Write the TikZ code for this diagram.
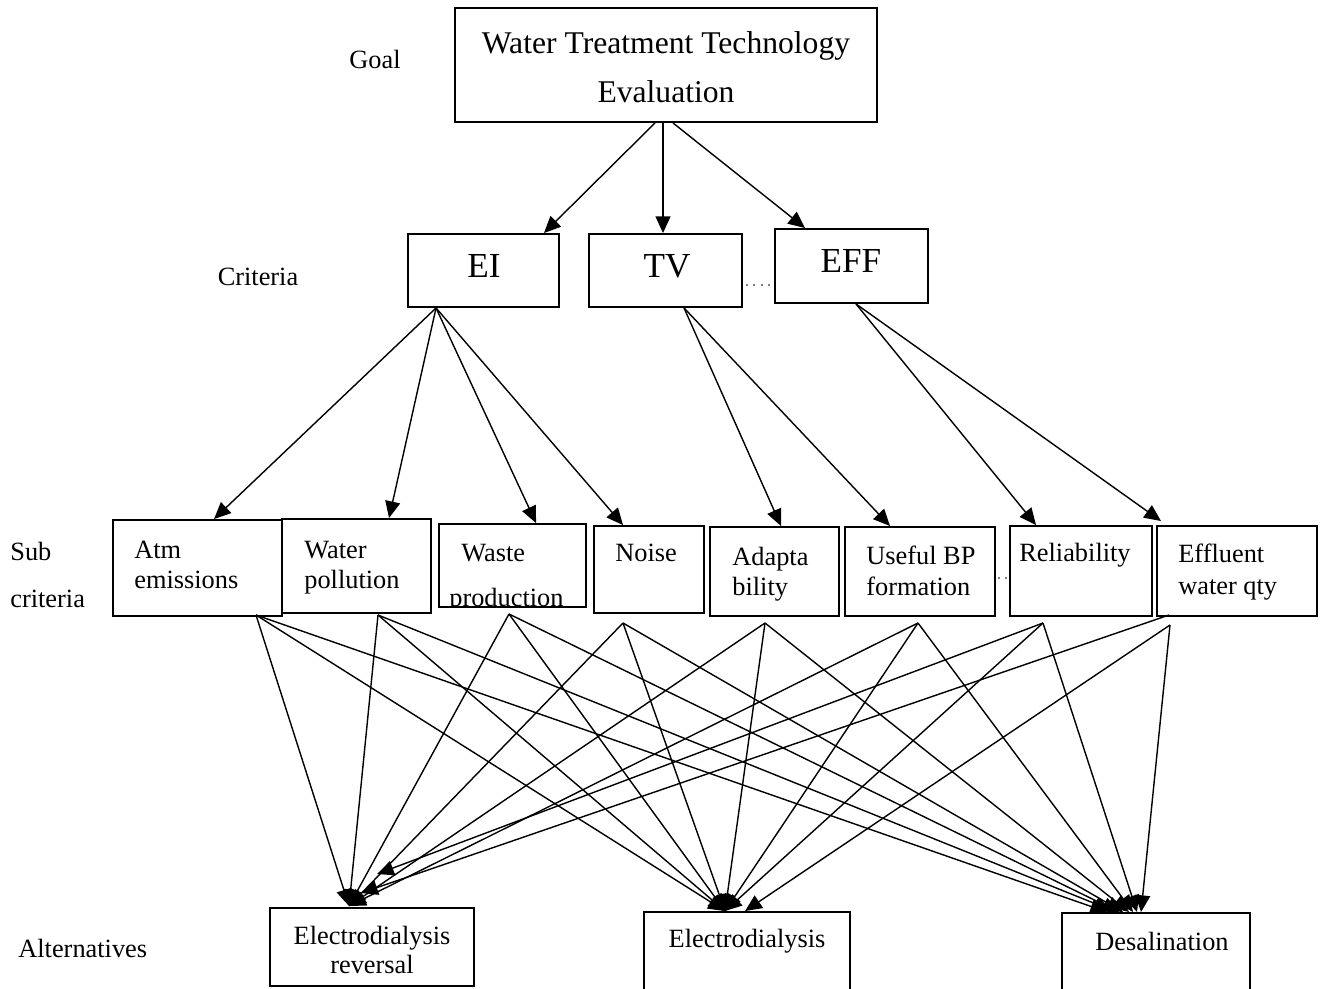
\documentclass[tikz,border=0pt]{standalone}
\usepackage{fontspec}
\setmainfont{Liberation Serif}
\usetikzlibrary{arrows.meta,calc,fit}
\begin{document}
\begin{tikzpicture}[x=0.02cm,y=-0.02cm,
  box/.style={draw,line width=1.1pt,inner sep=0pt},
  arr/.style={line width=0.8pt,-{Triangle[length=9.5pt,width=8.5pt]}},
  txt/.style={inner sep=0pt,font=\fontsize{15}{17}\selectfont},
  big/.style={inner sep=0pt,font=\fontsize{18}{20}\selectfont},
  crit/.style={inner sep=0pt,font=\fontsize{20}{22}\selectfont},
  dotline/.style={gray,line width=0.6pt,dash pattern=on 1.2pt off 3pt}]
\useasboundingbox (0,0) rectangle (1322,988);

% side labels
\node[txt,anchor=base] (lgoal) at (375,68) {Goal};
\node[txt,anchor=base] (lcrit) at (258,285) {Criteria};
\node[txt,anchor=base west] (lsub1) at (10,560) {Sub};
\node[txt,anchor=base west] (lsub2) at (10,607) {criteria};
\node[txt,anchor=base west] (lalt) at (18,957) {Alternatives};

% goal
\node[box,fit={(455,8)(877,122)}] (goal) {};
\node[big,anchor=base] (g1) at (666,53) {Water Treatment Technology};
\node[big,anchor=base] (g2) at (666,102) {Evaluation};

% criteria
\node[box,fit={(408,234)(559,307)}] (ei) {};
\node[crit,anchor=base] (eit) at (484,277) {EI};
\node[box,fit={(589,234)(742,307)}] (tv) {};
\node[crit,anchor=base] (tvt) at (667,277) {TV};
\node[box,fit={(775,229)(928,303)}] (eff) {};
\node[crit,anchor=base] (efft) at (851,272) {EFF};
\coordinate (da) at (746,285);
\coordinate (db) at (774,285);
\draw[dotline] (da) -- (db);

% sub criteria
\node[box,fit={(113,520)(282,616)}] (atm) {};
\node[txt,anchor=base west] (atm1) at (134,558) {Atm};
\node[txt,anchor=base west] (atm2) at (134,588) {emissions};

\node[box,fit={(282,519)(431,613)}] (wat) {};
\node[txt,anchor=base west] (wat1) at (304,558) {Water};
\node[txt,anchor=base west] (wat2) at (304,588) {pollution};

\node[box,fit={(439,524)(586,607)}] (was) {};
\node[txt,anchor=base west] (was1) at (461,561) {Waste};
\begin{scope}
\clip (439,524) rectangle (586,607);
\node[txt,anchor=base west] (was2) at (449,606) {production};
\end{scope}

\node[box,fit={(594,526)(704,613)}] (noi) {};
\node[txt,anchor=base west] (noi1) at (615,561) {Noise};

\node[box,fit={(710,527)(839,616)}] (ada) {};
\node[txt,anchor=base west] (ada1) at (732,565) {Adapta};
\node[txt,anchor=base west] (ada2) at (732,595) {bility};

\node[box,fit={(845,527)(995,616)}] (use) {};
\node[txt,anchor=base west] (use1) at (866,564) {Useful BP};
\node[txt,anchor=base west] (use2) at (866,595) {formation};

\node[box,fit={(1010,526)(1152,616)}] (rel) {};
\node[txt,anchor=base west] (rel1) at (1019,561) {Reliability};

\node[box,fit={(1157,526)(1317,616)}] (efl) {};
\node[txt,anchor=base west] (efl1) at (1178,562) {Effluent};
\node[txt,anchor=base west] (efl2) at (1178,594) {water qty};

\coordinate (dc) at (998,578);
\coordinate (dd) at (1009,578);
\draw[dotline] (dc) -- (dd);

% alternatives
\node[box,fit={(270,908)(474,986)}] (edr) {};
\node[txt,anchor=base] (edr1) at (372,944) {Electrodialysis};
\node[txt,anchor=base] (edr2) at (372,973) {reversal};
\node[box,fit={(644,912)(850,996)}] (ed) {};
\node[txt,anchor=base] (ed1) at (747,947) {Electrodialysis};
\node[box,fit={(1062,913)(1250,996)}] (des) {};
\node[txt,anchor=base] (des1) at (1162,950) {Desalination};

% goal -> criteria
\draw[arr] ($(goal.south)+(-11,0)$) -- ($(ei.north east)+(-16,0)$);
\draw[arr] ($(goal.south)+(-3,0)$) -- ($(tv.north)+(-2.5,0)$);
\draw[arr] ($(goal.south)+(7,0)$) -- ($(eff.north west)+(31,0)$);

% criteria -> sub criteria
\coordinate (eis) at ($(ei.south west)+(29,0)$);
\draw[arr] (eis) -- ($(atm.north west)+(102,0)$);
\draw[arr] (eis) -- ($(wat.north west)+(108,0)$);
\draw[arr] (eis) -- ($(was.north west)+(98,0)$);
\draw[arr] (eis) -- ($(noi.north west)+(30,0)$);
\coordinate (tvs) at ($(tv.south west)+(96,0)$);
\draw[arr] (tvs) -- ($(ada.north west)+(72,0)$);
\draw[arr] (tvs) -- ($(use.north west)+(46,0)$);
\coordinate (effs) at ($(eff.south west)+(82,0)$);
\draw[arr] (effs) -- ($(rel.north west)+(27,0)$);
\draw[arr] (effs) -- ($(efl.north west)+(5,-4)$);

% sub criteria -> alternatives
\coordinate (s1) at (256,615);
\coordinate (s2) at (378,615);
\coordinate (s3) at (509,614);
\coordinate (s4) at (623,623);
\coordinate (s5) at (765,623);
\coordinate (s6) at (918,623);
\coordinate (s7) at (1043,623);
\coordinate (s8a) at (1169,615);
\coordinate (s8) at (1170,625);

\coordinate (tr) at ($(edr.north west)+(80,-1)$);
\coordinate (tm) at ($(ed.north west)+(82,0)$);

\foreach \s in {s1,s2,s3,s4,s5,s6}{
  \draw[arr] (\s) -- (tr);
}
\draw[arr] (s7) -- ($(edr.north west)+(108,-33)$);
\draw[arr] (s8a) -- ($(edr.north west)+(92,-14)$);

\foreach \s in {s1,s2,s3,s4,s5,s6,s7}{
  \draw[arr] (\s) -- (tm);
}
\draw[arr] (s8) -- ($(ed.north west)+(102,0)$);

\draw[arr] (s1) -- ($(des.north west)+(46,0)$);
\draw[arr] (s2) -- ($(des.north west)+(50,-2)$);
\draw[arr] (s3) -- ($(des.north west)+(58,0)$);
\draw[arr] (s4) -- ($(des.north west)+(62,0)$);
\draw[arr] (s5) -- ($(des.north west)+(68,0)$);
\draw[arr] (s6) -- ($(des.north west)+(72,0)$);
\draw[arr] (s7) -- ($(des.north west)+(76,0)$);
\draw[arr] (s8) -- ($(des.north west)+(80,0)$);
\end{tikzpicture}
\end{document}
